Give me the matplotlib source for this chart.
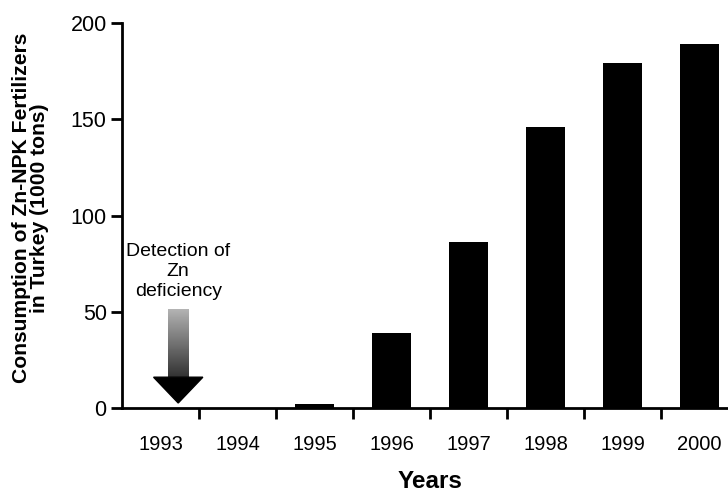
import numpy as np
import matplotlib.pyplot as plt
from matplotlib.patches import Polygon

plt.rcParams['font.family'] = ['Liberation Sans', 'DejaVu Sans']

# 数据
years = ['1993', '1994', '1995', '1996', '1997', '1998', '1999', '2000']
consumption = [0, 0, 2, 39, 86, 146, 179, 189]

fig = plt.figure(figsize=(7.28, 4.93), dpi=100)
ax = fig.add_axes([122 / 728, 1 - 408 / 493, 606 / 728, 385 / 493])

x = np.arange(len(years))
ax.bar(x, consumption, width=0.5, color='black')

ax.set_xlim(-0.5, 7.37)
ax.set_ylim(0, 200)
ax.set_yticks([0, 50, 100, 150, 200])
ax.set_xticks(np.arange(len(years) - 1) + 0.5)
ax.set_xticklabels([])
ax.tick_params(axis='x', length=8, width=2, direction='out')
ax.tick_params(axis='y', length=8, width=2, direction='out', labelsize=15.5, pad=3)
for i, yr in enumerate(years):
    ax.text(i, -14, yr, ha='center', va='top', fontsize=14.5)

for s in ['top', 'right']:
    ax.spines[s].set_visible(False)
ax.spines['left'].set_linewidth(2)
ax.spines['bottom'].set_linewidth(2)

ax.set_ylabel('Consumption of Zn-NPK Fertilizers\nin Turkey (1000 tons)',
              fontsize=15.2, fontweight='bold', linespacing=0.95)
ax.yaxis.set_label_coords(-0.12, 0.52)
fig.text(430 / 728, 1 - 482 / 493, 'Years', ha='center', va='center',
         fontsize=17.5, fontweight='bold')

# 箭头（渐变灰色）
ax_x = 0.23
grad = np.linspace(0.7, 0.2, 64).reshape(-1, 1)
ax.imshow(grad, cmap='gray', vmin=0, vmax=1, aspect='auto',
          extent=(ax_x - 0.13, ax_x + 0.13, 16, 51), zorder=3)
head = Polygon([[ax_x - 0.32, 16], [ax_x + 0.32, 16], [ax_x, 2.6]],
               closed=True, color='black', zorder=4)
ax.add_patch(head)
ax.text(ax_x, 85.5, 'Detection of\nZn\ndeficiency', ha='center', va='top',
        fontsize=14, linespacing=1.2)

fig.savefig('out.png', dpi=100)
